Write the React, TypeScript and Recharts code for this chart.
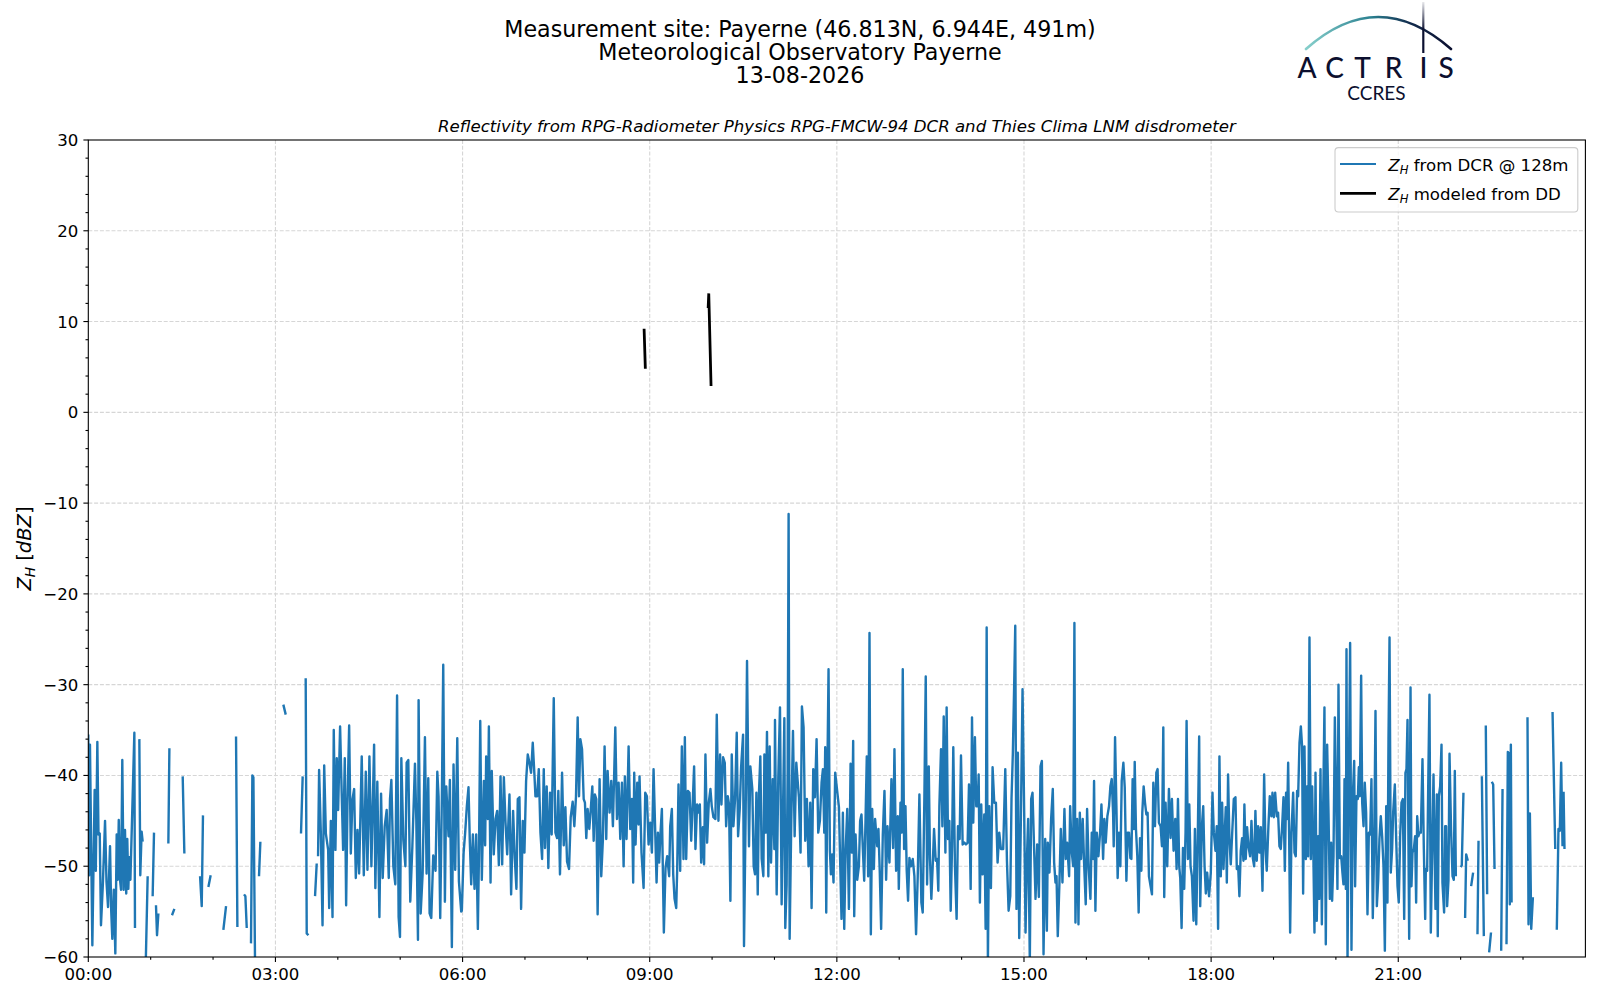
import { CartesianGrid, Line, LineChart, XAxis, YAxis } from "recharts";

// Z_H from DCR @ 128m, [minute of day, dBZ]; null = no data
const dcrEarly = [
  [0, -35.5], [0.8, -51], [1.6, -36.6], [3.9, -58.7], [6.1, -41.6], [7.2, -50.5], [8.7, -36.3], [9.8, -46.5],
  [11, -46.4], [12.2, -56.5], [14, -52], [16.1, -45], [17.5, -51.7], [19, -54.5], [20.9, -47.8], [22, -54.8],
  [23.1, -58], [24.5, -52.6], [26, -59.6], [27.3, -46.5], [28.3, -51.5], [29.3, -44.9], [30.5, -51.5], [31.5, -52.6],
  [32.7, -38.3], [34, -52.6], [35.3, -46], [36.5, -53], [37.5, -47], [38.5, -52.5], [39.5, -49], [40.5, -51.5],
  [44.3, -35.3], [44.9, -56.8], [45.5, null], [49.1, -36], [50, -51], [51.3, -46.2], [52.3, -47.3], [53, null],
  [55.2, -61], [57.1, -51.1], [58, null],
  [61.9, -53.3], [63.2, -46.3], [64, null],
  [65.1, -54.3], [66.1, -57.6], [67.4, -55.2], [68, null],
  [77, -47.5], [78, -37], [79, null],
  [80.5, -55.4], [82.8, -54.7], [84, null],
  [90.8, -40.1], [92.4, -48.6], [93, null],
  [107.5, -51.1], [109.1, -54.4], [110.3, -44.4], [111, null],
  [115.5, -52.3], [117.7, -51], [118, null],
  [129.9, -57], [132.5, -54.4], [133, null],
  [142.1, -35.7], [143.4, -56.7], [144, null],
  [149.8, -53.1], [151.1, -53.3], [152.4, -56.8], [153, null],
  [156.5, -58.5], [157.8, -40], [158.8, -40.2], [160.4, -61], [161, null],
  [164.2, -51.1], [165.5, -47.3], [166, null],
  [187.6, -32.2], [189.9, -33.3], [190.5, null],
  [204.6, -46.4], [206.2, -40.1], [206.8, null],
  [209.1, -29.3], [210.1, -57.4], [211.7, -57.6], [212.3, null],
  [218.1, -53.3], [219.7, -49.7], [220.3, null],
];

const dcr0306 = [
  [221, -48.9], [222, -39.4], [223.7, -46.5], [225.3, -56.5], [226.9, -38.9], [228.5, -46.4], [230.7, -48.2],
  [231.7, -54.6], [233.3, -45], [234.9, -55.6], [236.1, -35], [237.7, -48.2], [239, -38.1], [240.3, -43.8],
  [242.2, -34.6], [243.8, -42.3], [245.1, -48.2], [246.7, -38.1], [248, -54.3], [249.3, -43], [250.9, -34.5],
  [252.5, -48.6], [254, -42.7], [255.7, -41.5], [257.3, -51.3], [258.9, -46], [260.5, -50.8], [263, -37.9],
  [265, -51], [266.9, -39.6], [268.5, -50.4], [270.4, -37.9], [272.3, -50], [274.9, -36.6], [276.1, -52.4],
  [278, -40.7], [280, -55.6], [281.6, -42], [283.2, -51.3], [285.1, -45.6], [287, -43.8], [289, -51.3],
  [290.2, -42.6], [291.5, -40.5], [293.4, -50], [295.3, -52], [297, -31.2], [298.5, -55.6], [299.8, -57.8],
  [301.1, -38.1], [303, -47.1], [305, -50], [306.2, -38.6], [307.8, -38.3], [309.7, -53.9], [311.7, -47.8],
  [314.2, -38.7], [315.5, -44.9], [317.1, -58.1], [317.7, -31.7], [319.7, -55.2], [321.6, -50.8], [323.8, -35.8],
  [325.4, -50.8], [327, -40.3], [328.3, -55.2], [329.9, -55.7], [331.8, -48.8], [334, -50.5], [335.7, -39.6],
  [336.9, -42.3], [338.5, -55.7], [340.1, -42.3], [341.4, -27.8], [343, -53.9], [344.3, -41.2], [346.5, -46.7],
  [347.8, -40.5], [349.7, -58.9], [351.3, -38.8], [352.9, -50.4], [354.9, -35.9], [356.5, -51.7], [358.7, -55],
];

const dcr0609 = [
  [359.3, -54.9], [361, -48.5], [362.5, -46.3], [364.1, -43.4], [365.7, -41.3], [367, -47.4], [368.3, -52],
  [369.9, -46.5], [371.5, -52.5], [373.1, -46.5], [374.7, -56.9], [375.7, -49.2], [377, -34], [378.5, -51.5],
  [380.5, -40.6], [381.7, -47.7], [382.7, -37.9], [384.3, -44.8], [385.3, -34.6], [386.9, -51.8], [388.1, -39.5],
  [390, -48.7], [391.7, -44.8], [393.3, -43.9], [394.9, -49.9], [396.5, -40.1], [398.1, -49.8], [399.7, -40.2],
  [401.3, -45.2], [402.9, -48.7], [405.1, -42.1], [406.7, -53.1], [408.6, -43.9], [410.2, -49.1], [411.8, -52.5],
  [413.1, -42.6], [414.7, -42.4], [416.3, -54.7], [417.9, -45], [419.5, -48.5], [421.1, -40.6], [422.7, -37.7],
  [424.3, -38.6], [425.9, -39.7], [427.5, -36.4], [429.1, -39.9], [430.1, -42.3], [431.7, -42.3], [433.3, -39.3],
  [434.9, -46.3], [436.5, -49.2], [438.1, -39.3], [439.3, -48], [440.9, -41.2], [442.5, -50.2], [444.1, -41.9],
  [445.7, -46.5], [447.7, -31.5], [449.3, -46.3], [450.9, -46.9], [452.1, -41.7], [453.7, -50.9], [455.7, -39.7],
  [457.3, -47.7], [458.9, -43.5], [460.5, -49.5], [462.4, -50.3], [464, -44.6], [465.9, -42.9], [467.5, -45.6],
  [469.1, -42.3], [470.7, -33.6], [472, -42.3], [473.3, -36], [474.9, -37.1], [476.5, -42.6], [477.7, -43],
  [479, -46.9], [480.3, -43.7], [481.9, -45.9], [483.2, -43.9], [484.8, -41.2], [486.1, -47.2], [487.3, -42.1],
  [488.6, -42.6], [489.9, -55.3], [491.8, -40.4], [493.4, -51.1], [495, -47], [496.6, -36.8], [498.2, -47],
  [499.5, -39.5], [501.4, -44.1], [503, -40.6], [504.6, -45.6], [506.9, -34.7], [508.5, -44.8], [510.1, -40.8],
  [511.7, -47], [513.3, -40.8], [514.9, -50], [516.1, -40.1], [517.7, -47], [519.7, -36.8], [521.3, -45.9],
  [522.9, -42.6], [524.1, -51.8], [525.1, -39.7], [526.4, -47.6], [528, -40.8], [529.3, -45.4], [530.2, -40.1],
  [532.1, -48.5], [534.1, -52.4], [535.7, -41.9], [537.3, -42.3], [538.9, -47.6], [540.5, -45.2], [542.1, -48.5],
  [543.7, -39.3],
];

const dcr0912 = [
  [546.6, -51.8], [547.9, -46.3], [549.1, -49.6], [550.4, -46.3], [551.7, -43.7], [553.6, -57.3], [555.2, -50.2],
  [556.8, -48.9], [558.7, -51.1], [559.7, -45.6], [561.3, -43.7], [562.6, -50.9], [563.9, -53.6], [565.5, -54.6],
  [566.4, -50.5], [567.7, -41], [569.3, -50.5], [570.9, -36.8], [572.5, -49.2], [573.8, -35.8], [575.1, -49.2],
  [576.7, -41.7], [578.3, -41.9], [579.9, -47.2], [581.5, -42.6], [582.7, -39], [584, -48.1], [585.6, -43.2],
  [586.9, -44.1], [588.2, -43.2], [589.5, -49.6], [591.1, -45.7], [592.3, -49.8], [593.6, -37.7], [595.2, -47.4],
  [596.8, -43], [598.4, -41.5], [599.7, -43.4], [601.3, -44.6], [603.2, -44.8], [604.5, -33.3], [606.1, -45],
  [607.7, -37.7], [609, -43.2], [610.6, -38], [612.2, -38.6], [613.5, -45.6], [615.1, -42.3], [616.3, -43.2],
  [617.6, -53.8], [618.9, -37.7], [620.5, -45.6], [622.1, -42.6], [623.7, -35.3], [625, -46.7], [626.6, -43.7],
  [627.9, -39.1], [629.8, -35.5], [630.7, -58.8], [632.3, -44.1], [633.6, -27.4], [635.5, -47.8], [636.8, -39],
  [638.7, -41.5], [640, -50], [641.3, -50.9], [642.6, -41.9], [643.9, -53.1], [645.1, -41.9], [646.4, -37.9],
  [647.7, -49.2], [649.3, -51.1], [650.3, -37.7], [651.5, -46.3], [652.8, -35.2], [654.1, -51.1], [655.4, -36.8],
  [656.7, -49.6], [658.3, -40.4], [659.9, -48.1], [660.5, -33.9], [662.1, -53.1], [663.7, -40.1], [665.3, -32.5],
  [666.9, -54.2], [668.2, -44.1], [669.5, -33.7], [670.4, -56.8], [671.7, -52], [672.7, -39.3], [673.6, -11.2],
  [674.6, -58], [676.2, -44.8], [677.8, -35.1], [679.4, -46.7], [681, -38.6], [682.3, -40.6], [683.5, -42.4],
  [685.1, -48.5], [686.4, -32.4], [688, -34.7], [689.6, -47.2], [691.2, -42.6], [692.8, -50], [694.4, -43],
  [695.7, -54.6], [697.3, -39.3], [698.9, -42.4], [700.5, -36], [702.1, -46.3], [703.7, -45], [705.3, -40.8],
  [706.6, -39.3], [707.9, -46.3], [708.8, -36.9], [709.8, -55.1], [711.1, -37.5], [712, -28.3], [713.3, -48.3],
  [714.3, -50.9], [715.5, -48.7], [716.8, -51.8], [718.4, -39.7],
];

const dcr1215 = [
  [722, -43.5], [723.2, -49.6], [724.5, -55.8], [725.8, -44.1], [727.1, -56.9], [728.4, -48.5], [730, -43.7],
  [731.6, -54.7], [733.2, -38.7], [734.4, -48.5], [735.7, -36.2], [736.7, -55.5], [738, -46.5], [739.6, -51.5],
  [741.2, -50], [742.4, -45], [743.7, -44.3], [745, -48.1], [746.3, -51.6], [747.6, -44.8], [748.8, -37.9],
  [750.1, -51.1], [751.4, -24.3], [752.7, -57.5], [754, -43.7], [755.6, -50.3], [756.8, -44.8], [758.8, -47.8],
  [760, -45.9], [761.3, -50.7], [762.6, -56.9], [764.2, -46.5], [765.8, -41.7], [767.4, -51.5], [768.7, -45.6],
  [770.6, -49.6], [772.5, -40.4], [774.1, -48], [775.4, -37.1], [777, -50.5], [778.6, -44.5], [779.6, -52.5],
  [781.2, -43], [782.4, -46.3], [783.4, -28.3], [784.7, -48.1], [786, -43.4], [787.2, -50.5], [788.5, -53.8],
  [789.8, -49.1], [791.4, -50], [793, -49.2], [794.6, -51.1], [796.2, -57.5], [797.8, -51.1], [799.4, -42.1],
  [801.3, -54], [802.6, -55.1], [804.2, -42.3], [805.5, -29.1], [806.8, -52], [808.4, -39], [809.6, -49.2],
  [810.9, -53.6], [812.2, -50], [813.5, -45.9], [815.1, -49.4], [816.4, -49.2], [817.6, -52.7], [818.6, -43.4],
  [820.2, -37.1], [821.5, -45.6], [822.8, -33.5], [824.4, -48.5], [825.6, -32.5], [826.9, -47], [828.2, -45],
  [829.5, -54.9], [830.8, -47.8], [832, -36.9], [833.6, -50], [835.2, -55.8], [836.5, -45.6], [838.1, -47],
  [839.4, -37.8], [841, -47.6], [842.6, -47.4], [844.2, -47.6], [845.8, -47.4], [847.1, -41], [848.7, -52.5],
  [850, -33.6], [851.2, -45.2], [852.8, -35.8], [854.1, -43.4], [855.4, -43.4], [856.4, -39.9], [857.6, -54],
  [858.9, -43.2], [860.2, -50.9], [861.8, -44.3], [863.1, -56.9], [864.1, -23.7], [865.3, -60.5], [866.6, -43.4],
  [868.2, -52.4], [869.8, -39.1], [871.4, -43], [873, -43], [874.6, -49.6], [876.2, -46.3], [877.8, -48.1],
  [880, -48.1], [882, -39.3], [883.6, -49.4], [885.2, -54.9], [886.8, -53.3], [888, -42.6], [889.3, -37.5],
  [890.6, -29.8], [891.6, -23.5], [892.8, -54.7], [894.1, -37.5], [895.4, -57.9], [897, -44.8], [898.6, -30.5],
  [900.2, -44.1], [901.5, -57.3], [902.8, -49.2], [904, -44.8], [905.6, -60.5], [906.9, -42.6], [908.2, -41.9],
];

const dcr1518 = [
  [911.1, -53.6], [912.7, -47.6], [914.3, -53.4], [915.9, -39], [917.2, -38.4], [918.8, -59.7], [920.4, -47],
  [922, -57.1], [922.9, -47.4], [924.5, -50.7], [926.1, -44.8], [927.7, -41.5], [929, -49.6], [930.3, -51.8],
  [931.3, -51.1], [932.5, -57.7], [934.1, -51.8], [935.4, -45.9], [937, -51.8], [938.9, -43.7], [940.2, -49.2],
  [941.5, -47.4], [943.4, -51.1], [944.4, -43.4], [946, -48.5], [947.3, -50], [948.5, -23.2], [949.5, -56.2],
  [951.1, -44.8], [952.4, -56.4], [953.7, -44.1], [954.9, -49.2], [956.5, -44.8], [957.8, -49.6], [959.4, -54.2],
  [960.7, -43.7], [962.3, -50.3], [963.9, -53.6], [965.2, -46.3], [966.5, -49.2], [967.4, -40.6], [968.7, -54.9],
  [970, -46.3], [971.6, -48.9], [973.2, -46.3], [974.5, -43.2], [976.1, -49.2], [977.3, -44.8], [978.6, -47.4],
  [980.2, -44.5], [981.8, -43.4], [983.1, -41.2], [984.4, -40.4], [985.7, -44.1], [986.3, -47.8], [987.6, -35.8],
  [988.9, -43.4], [990.1, -51.3], [991.4, -46.3], [992.7, -50], [994, -40.6], [995.6, -38.6], [996.9, -41.3],
  [998.5, -51.6], [999.7, -46.3], [1001, -46.3], [1002.3, -49.1], [1003.3, -49.2], [1004.5, -40.4], [1005.8, -45.9],
  [1006.5, -38.5], [1007.7, -45.9], [1009, -48.9], [1010.3, -55.1], [1011.6, -46.9], [1012.9, -50.5], [1013.8, -44.1],
  [1015.1, -41.2], [1016.4, -43], [1017.7, -44.3], [1018.9, -44.1], [1020.2, -51.1], [1021.8, -52.2], [1023.1, -53.1],
  [1024.4, -40.8], [1026, -45.6], [1027.3, -39.7], [1028.5, -39.3], [1029.8, -45.2], [1031.4, -45.6], [1032.7, -47.8],
  [1034, -34.7], [1034.9, -53.4], [1036.2, -43], [1037.8, -50], [1039.4, -41.5], [1041, -46.9], [1042.3, -42.6],
  [1043.9, -48.3], [1045.5, -44.8], [1046.8, -50.3], [1048.1, -42.6], [1049.3, -50], [1050.3, -51.3], [1051.6, -56.8],
  [1052.9, -48], [1054.1, -52.5], [1055.4, -46.3], [1056.4, -34], [1057.7, -49.2], [1059, -43.2], [1060.2, -50],
  [1061.5, -51.1], [1063.1, -56], [1064.4, -45.9], [1065.7, -56.4], [1067.3, -45.6], [1068.5, -35.7], [1069.5, -54.4],
  [1071.1, -45.6], [1072.4, -43.4], [1073.7, -50], [1074.9, -53], [1076.2, -50.7],
];

const dcr1821 = [
  [1078, -53.3], [1079.7, -50.7], [1081.3, -41.9], [1082.6, -46.3], [1084.2, -48.3], [1085.4, -45.6], [1086.7, -56.9],
  [1088, -37.9], [1089.3, -51.1], [1090.6, -43], [1091.9, -50.3], [1093.1, -46.3], [1094.1, -43.5], [1095.1, -51.8],
  [1096.3, -39.9], [1097.6, -47], [1098.9, -49.8], [1100.2, -46.5], [1101.8, -42.6], [1103.4, -42.4], [1104.7, -50.3],
  [1106, -50], [1107.2, -53.3], [1108.5, -48.3], [1109.8, -46.9], [1111.1, -49.4], [1112, -43.2], [1113.3, -49.2],
  [1114.6, -45.7], [1115.9, -47.8], [1117.5, -48.9], [1118.8, -45], [1120.1, -49.1], [1121.4, -50], [1122.6, -43.9],
  [1123.9, -49.4], [1125.2, -45.6], [1126.5, -48.5], [1127.8, -45.7], [1129.4, -52.7], [1131, -39.9], [1132.3, -48.1],
  [1133.5, -50.5], [1135.1, -45.6], [1136.4, -42.3], [1138, -44.5], [1139, -41.9], [1140.3, -44.6], [1141.6, -41.9],
  [1143.2, -44.5], [1144.4, -44.1], [1145.7, -47.8], [1147, -48.1], [1148.3, -45.6], [1149.6, -42.4], [1150.9, -50.5],
  [1152.1, -41.9], [1153.1, -44.8], [1154.1, -38.6], [1155, -46.3], [1156, -57.3], [1157.3, -46.3], [1158.9, -41.9],
  [1160.2, -48.5], [1161.4, -48.9], [1162.7, -41.7], [1163.7, -42.3], [1165, -36.4], [1166.3, -34.6], [1167.5, -36.8],
  [1168.5, -53], [1169.8, -36.8], [1171.1, -49.2], [1172.3, -41.2], [1173.3, -48.9], [1174.6, -24.8], [1175.9, -49.2],
  [1177.2, -41.2], [1178.4, -49.2], [1179.4, -57.3], [1180.4, -39.7], [1181.6, -56], [1182.9, -46.7], [1183.9, -53.6],
  [1185.2, -39.3], [1186.5, -56.4], [1187.7, -44.1], [1189, -32.5], [1190.3, -58.6], [1191.6, -36.6], [1192.9, -44.1],
  [1194.2, -53.6], [1195.4, -47.4], [1196.4, -53.8], [1197.7, -48.9], [1199, -33.6], [1200.3, -43], [1201.5, -52.5],
  [1202.5, -30], [1203.8, -49.1], [1205.1, -48.9], [1206.3, -50.7], [1207.3, -52], [1208.3, -40.4], [1209.6, -52.5],
  [1210.2, -26.1], [1211.2, -60.5], [1212.4, -41.5], [1213.7, -25.4], [1215, -59.2], [1216.3, -42.3], [1217.6, -38.4],
  [1218.5, -52.2], [1219.8, -42.3], [1221.1, -42.6], [1222.1, -39.1], [1223, -42.3], [1224.3, -29], [1225.3, -43],
  [1226.6, -45.6], [1227.8, -40.8], [1229.1, -44.1], [1230.4, -55.3], [1231.7, -46.3], [1233, -46.5], [1234.2, -40.4],
  [1235.5, -55.7], [1236.8, -48.1], [1238.1, -32.9], [1239.4, -54.4], [1240.7, -51.5], [1241.9, -47], [1243.2, -44.5],
  [1244.5, -46.7], [1245.8, -50], [1247.1, -59.3], [1248.4, -43.4], [1249.6, -54], [1250.6, -36], [1251.6, -24.8],
  [1252.8, -50.7], [1254.1, -48.1], [1255.1, -44.1], [1256.7, -41], [1258, -47], [1259.3, -52.2], [1260.5, -54],
  [1261.8, -46.7], [1263.1, -43], [1264.4, -42.6], [1265.7, -55.8], [1266.9, -39.7], [1267.9, -39.3], [1268.9, -33.9],
];

const dcrLate = [
  [1270.5, -58], [1271.8, -30.3], [1272.7, -52.2], [1273.7, -48.5], [1275, -48.1], [1276.2, -46.7], [1277.2, -54],
  [1278.2, -44.5], [1279.4, -46.7], [1280.4, -46.3], [1281.7, -46.3], [1283.3, -38.2], [1284.6, -48.1], [1285.9, -55.8],
  [1286.5, -50.3], [1287.8, -50.5], [1289.1, -38.6], [1290, -31.1], [1291.3, -57.3], [1292.9, -46.3], [1293.9, -39.9],
  [1294.8, -47.4], [1295.8, -54.7], [1297.1, -42.1], [1298, -57.7], [1299, -42.3], [1300.3, -41.2], [1301.6, -36.6],
  [1302.5, -51.8], [1304.1, -55.1], [1305.1, -45.6], [1306, -45.6], [1307, -54.4], [1308.3, -51.5], [1309.3, -37.6],
  [1310.8, -46], [1312.2, -51.1], [1313.4, -51.5], [1314.4, -39.5], [1315.4, -51.1], [1316, null],
  [1320.2, -50.1], [1321.1, -49.9], [1322.7, -41.9], [1323.3, null],
  [1324.3, -55.7], [1325.3, -48.7], [1326.9, -49.4], [1327.5, null],
  [1330.1, -52.2], [1332, -50.7], [1332.6, null],
  [1336.2, -57.5], [1337.2, -47.2], [1337.8, null],
  [1340.4, -40.1], [1342.3, -57.7], [1342.9, null],
  [1344.2, -34.5], [1345.5, -53.1], [1346, null],
  [1347.4, -59.5], [1349.2, -57.3], [1349.6, null],
  [1350, -40.7], [1351.3, -41], [1352.6, -50.3], [1353.2, null],
  [1359, -59.3], [1360.3, -41.5], [1360.9, null],
  [1364.1, -58.6], [1365.4, -37.4], [1366.7, -37.6], [1367.3, -54.2], [1368.3, -36.6], [1369, -54], [1369.6, null],
  [1384.3, -33.6], [1385.3, -56.4], [1386.6, -44.2], [1387.9, -56.9], [1389.5, -53.4], [1390.1, null],
  [1408.4, -33], [1411, -48.1], [1411.5, null],
  [1412.5, -57], [1414.1, -45.9], [1415.4, -46.1], [1416.7, -38.6], [1418, -47.8], [1418.5, null],
  [1419, -41.8], [1419.9, -48.1],
];

// Z_H modeled from DD
const ddModel = [[534.6, 9.2], [535.8, 4.8], [560, null], [596.2, 11.5], [596.8, 13.1], [599, 2.9]];

const titleLines = ["Measurement site: Payerne (46.813N, 6.944E, 491m)", "Meteorological Observatory Payerne", "13-08-2026"];
const subtitle = "Reflectivity from RPG-Radiometer Physics RPG-FMCW-94 DCR and Thies Clima LNM disdrometer";

const yTicks = Array.from({ length: 46 }, (_, i) => -60 + i * 2);
const yGrid = [-50, -40, -30, -20, -10, 0, 10, 20];
const xTicks = Array.from({ length: 24 }, (_, i) => i * 60);
const xGrid = [180, 360, 540, 720, 900, 1080, 1260];

const toRows = (pairs) => pairs.map(([t, v]) => ({ t, v }));
const dcrData = toRows([...dcrEarly, ...dcr0306, ...dcr0609, ...dcr0912, ...dcr1215, ...dcr1518, ...dcr1821, ...dcrLate]);
const ddData = toRows(ddModel);

const FONT = "'DejaVu Sans', sans-serif";
const TICK_FS = 16.6;
const PLOT = { left: 88.3, top: 140, right: 1585.4, bottom: 957 };

const fmtY = (v: number) => (v < 0 ? `\u2212${-v}` : `${v}`);
const fmtX = (m: number) => `${String(Math.floor(m / 60)).padStart(2, "0")}:${String(m % 60).padStart(2, "0")}`;

function YTick({ x, y, payload }: any) {
  const v = payload.value;
  const major = v % 10 === 0;
  return (
    <g>
      <line x1={x - (major ? 4.9 : 2.8)} x2={x} y1={y} y2={y} stroke="#000" strokeWidth={1.1} />
      {major && (
        <text x={x - 10} y={y} dy="0.36em" textAnchor="end" fontFamily={FONT} fontSize={TICK_FS} fill="#000">
          {fmtY(v)}
        </text>
      )}
    </g>
  );
}

function XTick({ x, y, payload }: any) {
  const v = payload.value;
  const major = v % 180 === 0;
  return (
    <g>
      <line x1={x} x2={x} y1={y} y2={y + (major ? 4.9 : 2.8)} stroke="#000" strokeWidth={1.1} />
      {major && (
        <text x={x} y={y + 22.5} textAnchor="middle" fontFamily={FONT} fontSize={TICK_FS} fill="#000">
          {fmtX(v)}
        </text>
      )}
    </g>
  );
}

function ZH({ size }: { size: number }) {
  return (
    <>
      <tspan fontStyle="italic">Z</tspan>
      <tspan fontStyle="italic" fontSize={size * 0.7} dy={size * 0.22}>H</tspan>
    </>
  );
}

export default function App() {
  return (
    <div style={{ position: "absolute", left: 0, top: 0, width: 1600, height: 1000, background: "#fff" }}>
      <LineChart width={1600} height={1000} margin={{ top: 140, right: 14.6, bottom: 13, left: 28.3 }}>
        <CartesianGrid
          horizontalValues={yGrid}
          verticalValues={xGrid}
          stroke="#d6d6d6"
          strokeWidth={1.1}
          strokeDasharray="4 1.8"
        />
        <XAxis
          dataKey="t"
          type="number"
          domain={[0, 1440]}
          allowDataOverflow
          ticks={xTicks}
          interval={0}
          tick={<XTick />}
          tickSize={0}
          tickMargin={0}
          tickLine={false}
          axisLine={false}
          height={30}
        />
        <YAxis
          type="number"
          domain={[-60, 30]}
          allowDataOverflow
          ticks={yTicks}
          interval={0}
          tick={<YTick />}
          tickSize={0}
          tickMargin={0}
          tickLine={false}
          axisLine={false}
          width={60}
        />
        <Line
          data={dcrData}
          dataKey="v"
          type="linear"
          stroke="#1f77b4"
          strokeWidth={2.4}
          strokeLinejoin="round"
          dot={false}
          activeDot={false}
          isAnimationActive={false}
        />
        <Line
          data={ddData}
          dataKey="v"
          type="linear"
          stroke="#000"
          strokeWidth={2.78}
          dot={false}
          activeDot={false}
          isAnimationActive={false}
        />
      </LineChart>

      <svg width={1600} height={1000} style={{ position: "absolute", left: 0, top: 0, pointerEvents: "none" }}>
        <defs>
          <linearGradient id="arcGrad" gradientUnits="userSpaceOnUse" x1={1306} y1={0} x2={1451} y2={0}>
            <stop offset="0" stopColor="#86cfcb" />
            <stop offset="0.45" stopColor="#2b8090" />
            <stop offset="0.72" stopColor="#122a4c" />
            <stop offset="1" stopColor="#0b1030" />
          </linearGradient>
          <linearGradient id="mastGrad" gradientUnits="userSpaceOnUse" x1={0} y1={2} x2={0} y2={30}>
            <stop offset="0" stopColor="#0b1030" stopOpacity={0.1} />
            <stop offset="1" stopColor="#0b1030" />
          </linearGradient>
        </defs>

        {/* spines */}
        <rect
          x={PLOT.left}
          y={PLOT.top}
          width={PLOT.right - PLOT.left}
          height={PLOT.bottom - PLOT.top}
          fill="none"
          stroke="#000"
          strokeWidth={1.1}
        />

        {/* titles */}
        {titleLines.map((line, i) => (
          <text key={line} x={800} y={37 + i * 23} textAnchor="middle" fontFamily={FONT} fontSize={22.2} fill="#000">
            {line}
          </text>
        ))}
        <text x={836.9} y={131.5} textAnchor="middle" fontFamily={FONT} fontSize={16.6} fontStyle="italic" fill="#000">
          {subtitle}
        </text>

        {/* y label */}
        <text
          x={31}
          y={548.5}
          transform="rotate(-90 31 548.5)"
          textAnchor="middle"
          fontFamily={FONT}
          fontSize={19.5}
          fill="#000"
        >
          <ZH size={19.5} />
          <tspan dy={-19.5 * 0.22}> [</tspan>
          <tspan fontStyle="italic">dBZ</tspan>
          <tspan>]</tspan>
        </text>

        {/* legend */}
        <rect x={1335} y={147.6} width={242.8} height={64.4} rx={3.5} fill="#fff" fillOpacity={0.8} stroke="#cccccc" strokeWidth={1.1} />
        <line x1={1340} x2={1376} y1={164} y2={164} stroke="#1f77b4" strokeWidth={2.08} />
        <line x1={1340} x2={1376} y1={193.3} y2={193.3} stroke="#000" strokeWidth={2.78} />
        <text x={1388.3} y={170.5} fontFamily={FONT} fontSize={16.6} fill="#000">
          <ZH size={16.6} />
          <tspan dy={-16.6 * 0.22}> from DCR @ 128m</tspan>
        </text>
        <text x={1388.3} y={199.8} fontFamily={FONT} fontSize={16.6} fill="#000">
          <ZH size={16.6} />
          <tspan dy={-16.6 * 0.22}> modeled from DD</tspan>
        </text>

        {/* logo */}
        <path d="M1306,49 Q1378,-15 1451,49" fill="none" stroke="url(#arcGrad)" strokeWidth={2.6} strokeLinecap="round" />
        <line x1={1423.3} x2={1423.3} y1={2} y2={53} stroke="url(#mastGrad)" strokeWidth={2.2} />
        {[
          ["A", 1307],
          ["C", 1334.5],
          ["T", 1362.5],
          ["R", 1393.5],
          ["I", 1423.5],
          ["S", 1446],
        ].map(([ch, cx]) => (
          <text key={ch as string} x={cx as number} y={78} textAnchor="middle" fontFamily="Lato, 'Noto Sans', sans-serif" fontSize={28} fontWeight={500} fill="#0c0f2e">
            {ch}
          </text>
        ))}
        <text x={1376.5} y={99.5} textAnchor="middle" fontFamily="Lato, 'Noto Sans', sans-serif" fontSize={19} fill="#0c0f2e">
          CCRES
        </text>
      </svg>
    </div>
  );
}
